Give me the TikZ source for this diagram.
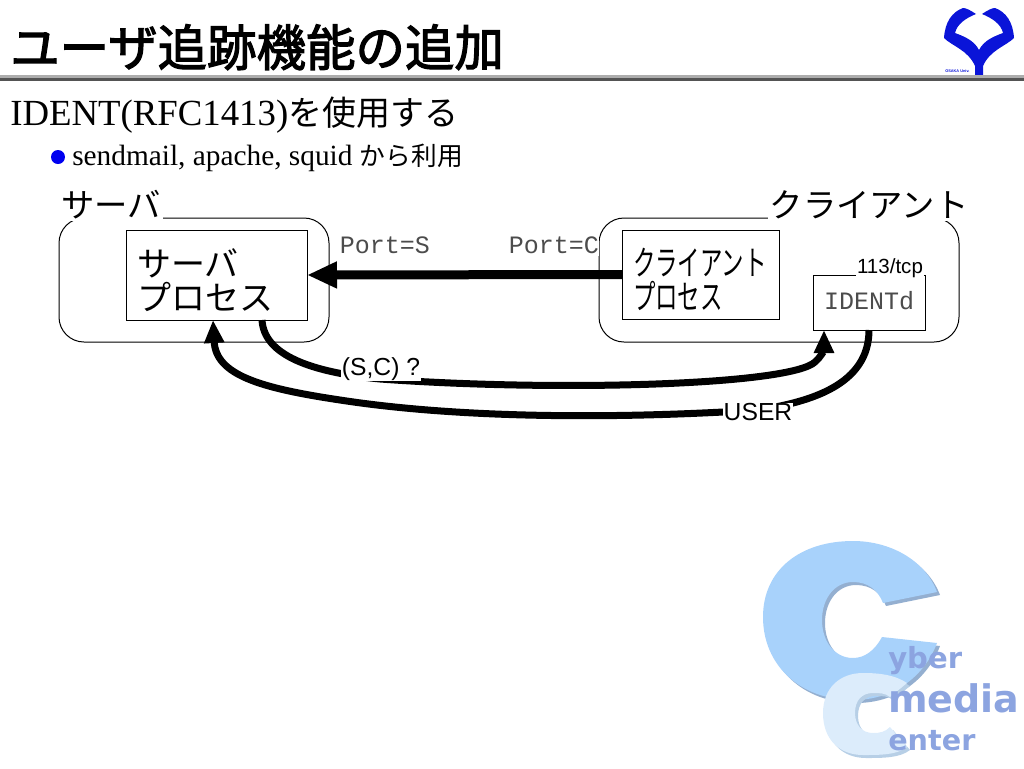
\documentclass[tikz,border=0pt]{standalone}
\usepackage{fontspec}
\usepackage{xcolor}
\usetikzlibrary{arrows.meta,positioning}
\setmainfont{Liberation Serif}
\setsansfont{Liberation Sans}
\setmonofont{Liberation Mono}
\newfontfamily\jpfont{Noto Sans CJK JP}
\newfontfamily\jptitle[FakeBold=2.4]{Noto Sans CJK JP}
\newfontfamily\jpnarrow[FakeStretch=0.66]{Noto Sans CJK JP}
\newfontfamily\wmfont{DejaVu Sans Bold}
\newcommand{\px}{.75pt}
\newcommand{\bigCpath}{(937,592) .. controls (925,560) and (890,541) .. (853,541) .. controls (800,541) and (763,570) .. (763,617) .. controls (763,665) and (800,700) .. (853,700) .. controls (895,700) and (925,675) .. (937,643) -- (882,637) .. controls (875,650) and (865,658) .. (853,658) .. controls (835,658) and (822,642) .. (822,620) .. controls (822,598) and (835,582) .. (853,582) .. controls (868,582) and (878,590) .. (883,603) -- cycle}
\newcommand{\smallCpath}{(907,683) .. controls (895,675) and (880,673) .. (863,673) .. controls (840,673) and (823,688) .. (823,713) .. controls (823,740) and (840,755) .. (863,755) .. controls (880,755) and (897,755) .. (907,747) -- (890,727) .. controls (885,732) and (880,733) .. (873,733) .. controls (862,733) and (855,725) .. (855,713) .. controls (855,700) and (862,693) .. (873,693) .. controls (880,693) and (885,693) .. (890,697) -- cycle}
\definecolor{logoblue}{HTML}{0A14D8}
\definecolor{bulletblue}{HTML}{0000F0}
\definecolor{wmbig}{HTML}{A8D2FB}
\definecolor{wmbigshadow}{HTML}{94AFD0}
\definecolor{wmsmall}{HTML}{DCECFB}
\definecolor{wmsmallshadow}{HTML}{B7CFE6}
\definecolor{wmtext}{HTML}{8CA4E0}
\begin{document}
\begin{tikzpicture}[x=.75pt, y=-.75pt, >=Stealth,
    hostbox/.style={draw, line width=1*\px, rounded corners=25*\px, minimum height=124*\px, outer sep=0pt, inner sep=0pt},
    procbox/.style={draw, line width=1*\px, outer sep=0pt, inner xsep=11*\px, inner ysep=0pt, align=left, text height=28.4pt, font=\jpfont\fontsize{25.5}{25.5}\selectfont},
    hostlabel/.style={fill=white, inner sep=2*\px, font=\jpfont\fontsize{25}{25}\selectfont},
    portlabel/.style={fill=white, inner sep=0pt, text=black!70, font=\ttfamily\fontsize{18.75}{18.75}\selectfont},
    flowlabel/.style={fill=white, inner xsep=1*\px, inner ysep=0pt, font=\sffamily\fontsize{18.5}{18.5}\selectfont},
    flow/.style={line width=7*\px, -{Triangle[length=23*\px,width=19*\px]}},
    textline/.style={anchor=base west, inner sep=0pt}]
\useasboundingbox (0,0) rectangle (1024,768);
% watermark
\fill[wmbigshadow, shift={(3,3)}] \bigCpath;
\fill[wmbig] \bigCpath;
\fill[wmsmallshadow, shift={(3,3)}] \smallCpath;
\fill[wmsmall] \smallCpath;
\foreach \wmword/\wmy/\wmsize in {yber/668/21.8, media/712/28.5, enter/750/21.5} {
  \node[textline, text=wmtext, font=\wmfont\fontsize{\wmsize}{\wmsize}\selectfont] (\wmword) at (888,\wmy) {\wmword};
}
% logo
\fill[logoblue] (976,14) .. controls (970,10) and (966,8) .. (963,8) .. controls (952,12) and (945,22) .. (944,38) .. controls (952,46) and (968,50) .. (975,66) -- (975,75) -- (983,75) -- (983,66) .. controls (990,50) and (1006,46) .. (1014,38) .. controls (1013,22) and (1006,12) .. (995,8) .. controls (992,8) and (988,10) .. (982,14) .. controls (992,18) and (1001,24) .. (1003,33) .. controls (995,36) and (984,40) .. (979,50) .. controls (974,40) and (963,36) .. (955,33) .. controls (957,24) and (966,18) .. (976,14) -- cycle;
\node[textline, text=logoblue, font=\sffamily\bfseries\fontsize{2.9}{2.9}\selectfont] (logotext) at (945,72) {OSAKA Univ.};
% header
\fill[black!32] (0,75) rectangle (1024,78);
\fill[black!67] (0,78) rectangle (1024,81);
\node[textline, font=\jptitle\fontsize{37.1}{37.1}\selectfont] (title) at (10,66) {ユーザ追跡機能の追加};
\node[textline, font=\fontsize{27.6}{27.6}\selectfont] (subtitle) at (10,125) {IDENT(RFC1413){\jpfont\fontsize{25.5}{25.5}\selectfont を使用する}};
\node[circle, fill=bulletblue, minimum size=14*\px, inner sep=0pt] (bullet) at (58,157) {};
\node[textline, font=\fontsize{22}{22}\selectfont] (bullettext) at (72,165) {sendmail, apache, squid {\jpfont\fontsize{19.3}{19.3}\selectfont から利用}};
% hosts
\node[hostbox, minimum width=270*\px] (server) at (194,280) {};
\node[hostbox, minimum width=360*\px, right=270*\px of server] (client) {};
\node[procbox, text width=159*\px, minimum height=90*\px, below right=12*\px and 67*\px of server.north west] (srvproc) {サーバ\\プロセス};
\node[procbox, text width=135*\px, minimum height=89*\px, below right=12*\px and 23*\px of client.north west, font=\jpnarrow\fontsize{25.5}{25.5}\selectfont] (cliproc) {クライアント\\プロセス};
\node[draw, line width=1*\px, outer sep=0pt, minimum width=112*\px, minimum height=55*\px, above left=12*\px and 34*\px of client.south east, text depth=3pt, text=black!70, font=\ttfamily\fontsize{18.75}{18.75}\selectfont] (identd) {IDENTd};
\node[hostlabel] (serverlabel) at (111,205) {サーバ};
\node[hostlabel] (clientlabel) at (869,205) {クライアント};
\node[portlabel] (portS) at (385,245) {Port=S};
\node[portlabel, inner ysep=3*\px] (portC) at (554,245) {Port=C};
\node[fill=white, inner xsep=1*\px, inner ysep=1*\px, font=\sffamily\fontsize{15.4}{15.4}\selectfont] (identport) at (890,268) {113/tcp};
% connections
\draw[->, line width=9*\px, -{Triangle[length=30*\px,width=25*\px]}] (cliproc.west) -- (srvproc.east);
\coordinate (scpoint) at (380,379);
\coordinate (userpoint) at (758,410);
\draw[flow] ([xshift=45.5*\px]srvproc.south) .. controls (264,355) and (310,372) .. (scpoint) .. controls (560,392) and (790,385) .. (815,362) .. controls (820,358) and (824,350) .. ([xshift=-45*\px]identd.south);
\draw[flow] (identd.south) .. controls (869,385) and (810,402) .. (userpoint) .. controls (600,420) and (450,417) .. (340,400) .. controls (260,388) and (216,375) .. ([xshift=-3.5*\px]srvproc.south);
\node[flowlabel] (sclabel) at (381,369.5) {(S,C) ?};
\node[flowlabel] (userlabel) at (758,412) {USER};
\end{tikzpicture}
\end{document}
